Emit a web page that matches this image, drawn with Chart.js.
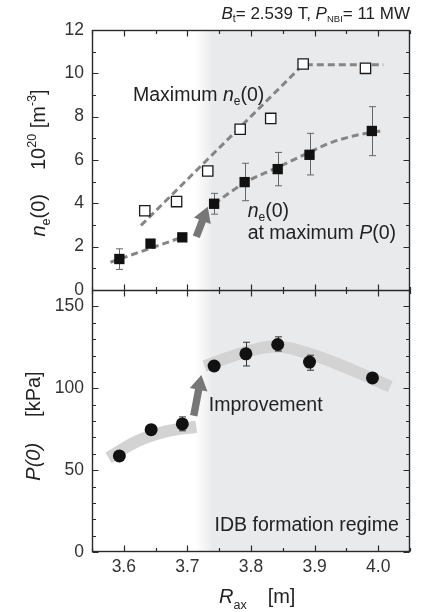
<!DOCTYPE html>
<html>
<head>
<meta charset="utf-8">
<script src="https://cdn.jsdelivr.net/npm/chart.js@4.4.1/dist/chart.umd.min.js"></script>
<style>
  html, body { margin: 0; padding: 0; background: #fff; }
</style>
</head>
<body>
<canvas id="chart" width="439" height="612"></canvas>
<script>
// ---- top panel: n_e(0) [10^20 m^-3] vs R_ax [m] ----
const rNe = [3.593, 3.642, 3.692, 3.742, 3.790, 3.842, 3.892, 3.990];
const neAtMaxP = [1.43, 2.14, 2.43, 3.98, 4.98, 5.58, 6.24, 7.34];
const neLow = [0.95, null, null, 3.50, 4.12, 4.81, 5.31, 6.20];
const neHigh = [1.90, null, null, 4.46, 5.85, 6.35, 7.23, 8.46];

const rMax = [3.633, 3.683, 3.732, 3.783, 3.831, 3.882, 3.980];
const neMax = [3.66, 4.08, 5.49, 7.42, 7.92, 10.43, 10.23];

// dashed guide lines
const maxFitR = [3.627, 3.882, 4.008];
const maxFitNe = [2.98, 10.40, 10.40];
const lowFitR1 = [3.579, 3.695];
const lowFitNe1 = [1.28, 2.47];
const lowFitR2 = [3.742, 3.790, 3.842, 3.892, 3.930, 3.990, 4.008];
const lowFitNe2 = [3.98, 4.95, 5.66, 6.36, 6.85, 7.28, 7.34];

// ---- bottom panel: P(0) [kPa] vs R_ax [m] ----
const rP = [3.593, 3.643, 3.692, 3.742, 3.792, 3.842, 3.892, 3.991];
const p0 = [58.7, 74.7, 78.2, 113.6, 121.0, 126.7, 116.0, 106.3];
const pLow = [null, null, 74.0, null, 113.6, 122.7, 111.0, null];
const pHigh = [null, null, 82.5, null, 128.1, 131.4, 120.2, null];

// thick gray trend bands
const bandLowR = [3.576, 3.620, 3.665, 3.714];
const bandLowP = [57.5, 67.5, 73.5, 76.5];
const bandHighR = [3.727, 3.790, 3.842, 3.900, 3.960, 4.019];
const bandHighP = [113.5, 122.0, 125.5, 120.0, 111.0, 101.0];

// arrows [r0, v0, r1, v1]
const neArrow = [3.714, 2.46, 3.732, 3.84];
const pArrow = [3.710, 83.2, 3.722, 108.1];

// IDB regime shading
const idbStart = 3.712;
const idbFull = 3.741;

// ticks
const xTicks = [3.6, 3.7, 3.8, 3.9, 4.0];
const xMinor = [3.55, 3.65, 3.75, 3.85, 3.95, 4.05];
const neTicks = [0, 2, 4, 6, 8, 10, 12];
const neMinor = [1, 3, 5, 7, 9, 11];
const pTicks = [0, 50, 100, 150];
const pMinor = [10, 20, 30, 40, 60, 70, 80, 90, 110, 120, 130, 140];

const fam = '"Liberation Sans", Arial, Helvetica, sans-serif';
const ink = '#222';

function xy(xs, ys) {
  return xs.map((x, i) => ({ x: x, y: ys[i] }));
}
function font(size, italic) {
  return (italic ? 'italic ' : '') + size + 'px ' + fam;
}
// parts: [text, size, italic, dy, extra gap after]
function rich(ctx, parts, x, y, align) {
  let w = 0;
  const ws = parts.map(p => {
    ctx.font = font(p[1], p[2]);
    const pw = ctx.measureText(p[0]).width + (p[4] || 0);
    w += pw;
    return pw;
  });
  let cx = align === 'right' ? x - w : align === 'center' ? x - w / 2 : x;
  ctx.textAlign = 'left';
  ctx.textBaseline = 'alphabetic';
  parts.forEach((p, i) => {
    ctx.font = font(p[1], p[2]);
    ctx.fillText(p[0], cx, y + (p[3] || 0));
    cx += ws[i];
  });
}

function arrow(ctx, x0, y0, x1, y1) {
  const ang = Math.atan2(y1 - y0, x1 - x0);
  const len = Math.hypot(x1 - x0, y1 - y0);
  const head = 15, shaft = 3.7, hw = 9;
  ctx.save();
  ctx.translate(x0, y0);
  ctx.rotate(ang);
  ctx.fillStyle = '#777';
  ctx.beginPath();
  ctx.moveTo(0, -shaft);
  ctx.lineTo(len - head, -shaft);
  ctx.lineTo(len - head, -hw);
  ctx.lineTo(len, 0);
  ctx.lineTo(len - head, hw);
  ctx.lineTo(len - head, shaft);
  ctx.lineTo(0, shaft);
  ctx.closePath();
  ctx.fill();
  ctx.restore();
}

function errorBars(chart, ys, lows, highs, axisId, color) {
  const ctx = chart.ctx;
  const sx = chart.scales.x, sy = chart.scales[axisId];
  ctx.save();
  ctx.strokeStyle = color;
  ctx.lineWidth = 1;
  ys.forEach((r, i) => {
    if (lows[i] == null) return;
    const x = Math.round(sx.getPixelForValue(r)) + 0.5;
    const a = sy.getPixelForValue(lows[i]);
    const b = sy.getPixelForValue(highs[i]);
    ctx.beginPath();
    ctx.moveTo(x, a); ctx.lineTo(x, b);
    ctx.moveTo(x - 3.5, a); ctx.lineTo(x + 3.5, a);
    ctx.moveTo(x - 3.5, b); ctx.lineTo(x + 3.5, b);
    ctx.stroke();
  });
  ctx.restore();
}

const decor = {
  id: 'decor',
  beforeDatasetsDraw(chart) {
    const ctx = chart.ctx, a = chart.chartArea, sx = chart.scales.x;
    const x0 = sx.getPixelForValue(idbStart), x1 = sx.getPixelForValue(idbFull);
    const g = ctx.createLinearGradient(x0, 0, x1, 0);
    g.addColorStop(0, 'rgba(233,234,236,0)');
    g.addColorStop(1, 'rgba(233,234,236,1)');
    ctx.save();
    ctx.fillStyle = g;
    ctx.fillRect(x0, a.top, a.right - x0, a.bottom - a.top);
    ctx.restore();
  },
  beforeDatasetDraw(chart, args) {
    const label = chart.data.datasets[args.index].label;
    const sx = chart.scales.x;
    if (label === 'neMax') {
      const yN = chart.scales.yN, yP = chart.scales.yP;
      arrow(chart.ctx, sx.getPixelForValue(neArrow[0]), yN.getPixelForValue(neArrow[1]),
        sx.getPixelForValue(neArrow[2]), yN.getPixelForValue(neArrow[3]));
      arrow(chart.ctx, sx.getPixelForValue(pArrow[0]), yP.getPixelForValue(pArrow[1]),
        sx.getPixelForValue(pArrow[2]), yP.getPixelForValue(pArrow[3]));
    }
    if (label === 'neAtMaxP') errorBars(chart, rNe, neLow, neHigh, 'yN', '#666');
    if (label === 'p0') errorBars(chart, rP, pLow, pHigh, 'yP', '#333');
  },
  afterDraw(chart) {
    const ctx = chart.ctx, a = chart.chartArea;
    const sx = chart.scales.x, yN = chart.scales.yN, yP = chart.scales.yP;
    const mid = Math.round(yN.getPixelForValue(0)) + 0.5;
    const L = Math.round(a.left) + 0.5, R = Math.round(a.right) - 0.5;
    const T = Math.round(a.top) + 0.5, B = Math.round(a.bottom) - 0.5;
    ctx.save();
    ctx.strokeStyle = '#2a2a2a';
    ctx.lineWidth = 1.4;
    ctx.strokeRect(L, T, R - L, B - T);
    ctx.beginPath(); ctx.moveTo(L, mid); ctx.lineTo(R, mid); ctx.stroke();

    ctx.lineWidth = 1.2;
    ctx.beginPath();
    const xt = (vals, len) => vals.forEach(v => {
      const x = Math.round(sx.getPixelForValue(v)) + 0.5;
      ctx.moveTo(x, T); ctx.lineTo(x, T + len);
      ctx.moveTo(x, mid - len); ctx.lineTo(x, mid + len);
      ctx.moveTo(x, B); ctx.lineTo(x, B - len);
    });
    xt(xTicks, 6); xt(xMinor, 3.5);
    const yt = (s, vals, len) => vals.forEach(v => {
      const y = Math.round(s.getPixelForValue(v)) + 0.5;
      ctx.moveTo(L, y); ctx.lineTo(L + len, y);
      ctx.moveTo(R, y); ctx.lineTo(R - len, y);
    });
    yt(yN, neTicks, 6); yt(yN, neMinor, 3.5);
    yt(yP, pTicks, 6); yt(yP, pMinor, 3.5);
    ctx.stroke();
    ctx.restore();

    ctx.save();
    ctx.fillStyle = ink;
    // header
    rich(ctx, [['B', 17, true], ['t', 10.5, false, 3], ['= 2.539 T, ', 17], ['P', 17, true],
      ['NBI', 9.5, false, 3], ['= 11 MW', 17]], 410, 19, 'right');
    // annotations
    rich(ctx, [['Maximum ', 19.5], ['n', 19.5, true], ['e', 12, false, 4], ['(0)', 19.5]],
      sx.getPixelForValue(3.6145), yN.getPixelForValue(8.74), 'left');
    rich(ctx, [['n', 19.5, true], ['e', 12, false, 4], ['(0)', 19.5]],
      sx.getPixelForValue(3.7947), yN.getPixelForValue(3.38), 'left');
    rich(ctx, [['at maximum ', 19.5], ['P', 19.5, true], ['(0)', 19.5]],
      sx.getPixelForValue(3.7947), yN.getPixelForValue(2.34), 'left');
    rich(ctx, [['Improvement', 19.5]],
      sx.getPixelForValue(3.7337), yP.getPixelForValue(86.2), 'left');
    rich(ctx, [['IDB formation regime', 19.5]],
      sx.getPixelForValue(3.7427), yP.getPixelForValue(12.75), 'left');
    // x title
    rich(ctx, [['R', 20, true], ['ax', 12.5, false, 6, 21], ['[m]', 20]], 219, 603, 'left');
    // y titles
    ctx.save();
    ctx.translate(45, 163);
    ctx.rotate(-Math.PI / 2);
    rich(ctx, [['n', 20, true], ['e', 12.5, false, 5], ['(0)', 20, false, 0, 24], ['10', 20],
      ['20', 12.5, false, -9], [' [m', 20], ['-3', 12.5, false, -9], [']', 20]], 0, 0, 'center');
    ctx.restore();
    ctx.save();
    ctx.translate(40, 426);
    ctx.rotate(-Math.PI / 2);
    rich(ctx, [['P(0)', 20, true, 0, 26], ['[kPa]', 20]], 0, 0, 'center');
    ctx.restore();
    ctx.restore();
  }
};

const tickFont = { family: fam, size: 17.5 };

const chart = new Chart(document.getElementById('chart'), {
  type: 'scatter',
  data: {
    datasets: [
      { label: 'neMax', data: xy(rMax, neMax), yAxisID: 'yN', order: 1,
        pointStyle: 'rect', pointRadius: 7.3, backgroundColor: '#fff',
        borderColor: '#1a1a1a', borderWidth: 1.3 },
      { label: 'neAtMaxP', data: xy(rNe, neAtMaxP), yAxisID: 'yN', order: 1,
        pointStyle: 'rect', pointRadius: 7.3, backgroundColor: '#111',
        borderColor: '#111', borderWidth: 0 },
      { label: 'p0', data: xy(rP, p0), yAxisID: 'yP', order: 1,
        pointStyle: 'circle', pointRadius: 6.5, backgroundColor: '#111',
        borderColor: '#111', borderWidth: 0 },
      { label: 'maxFit', data: xy(maxFitR, maxFitNe), yAxisID: 'yN', order: 2, showLine: true,
        pointRadius: 0, borderColor: '#858585', borderWidth: 3, borderDash: [7, 4] },
      { label: 'lowFit1', data: xy(lowFitR1, lowFitNe1), yAxisID: 'yN', order: 2, showLine: true,
        pointRadius: 0, borderColor: '#858585', borderWidth: 3, borderDash: [7, 4] },
      { label: 'lowFit2', data: xy(lowFitR2, lowFitNe2), yAxisID: 'yN', order: 2, showLine: true,
        pointRadius: 0, borderColor: '#858585', borderWidth: 3, borderDash: [7, 4],
        cubicInterpolationMode: 'monotone' },
      { label: 'bandLow', data: xy(bandLowR, bandLowP), yAxisID: 'yP', order: 3, showLine: true,
        pointRadius: 0, borderColor: '#d3d3d3', borderWidth: 12, cubicInterpolationMode: 'monotone' },
      { label: 'bandHigh', data: xy(bandHighR, bandHighP), yAxisID: 'yP', order: 3, showLine: true,
        pointRadius: 0, borderColor: '#d3d3d3', borderWidth: 12, tension: 0.4 }
    ]
  },
  options: {
    responsive: false,
    animation: false,
    layout: { padding: { top: 30, right: 29, bottom: 0, left: 0 } },
    plugins: { legend: { display: false }, tooltip: { enabled: false } },
    scales: {
      x: {
        type: 'linear', min: 3.55, max: 4.05, position: 'bottom',
        grid: { display: false, drawTicks: false }, border: { display: false },
        ticks: { font: tickFont, color: '#333', padding: 5, callback: v => v.toFixed(1) },
        afterBuildTicks: s => { s.ticks = xTicks.map(v => ({ value: v })); },
        afterFit: s => { s.height = 60; }
      },
      yP: {
        type: 'linear', min: 0, max: 160, position: 'left', stack: 'panels', stackWeight: 262,
        grid: { display: false, drawTicks: false }, border: { display: false },
        ticks: { font: tickFont, color: '#333', padding: 8 },
        afterBuildTicks: s => { s.ticks = pTicks.map(v => ({ value: v })); },
        afterFit: s => { s.width = 92; }
      },
      yN: {
        type: 'linear', min: 0, max: 12, position: 'left', stack: 'panels', stackWeight: 260,
        grid: { display: false, drawTicks: false }, border: { display: false },
        ticks: { font: tickFont, color: '#333', padding: 8 },
        afterBuildTicks: s => { s.ticks = neTicks.map(v => ({ value: v })); },
        afterFit: s => { s.width = 92; }
      }
    }
  },
  plugins: [decor]
});
</script>
</body>
</html>
